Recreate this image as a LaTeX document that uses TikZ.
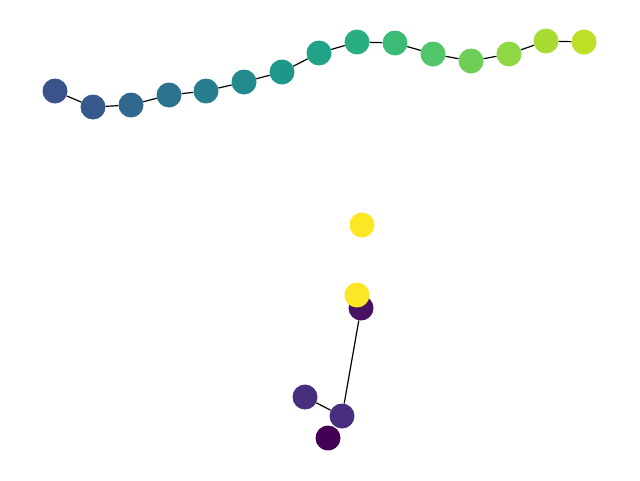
\documentclass[tikz,border=0pt]{standalone}
\usepackage{xcolor}
\definecolor{vir00}{HTML}{440154}
\definecolor{vir05}{HTML}{471164}
\definecolor{vir15}{HTML}{472F7D}
\definecolor{vir25}{HTML}{3B528B}
\definecolor{vir30}{HTML}{37598C}
\definecolor{vir35}{HTML}{30688E}
\definecolor{vir40}{HTML}{2C718E}
\definecolor{vir45}{HTML}{277F8E}
\definecolor{vir50}{HTML}{238A8D}
\definecolor{vir55}{HTML}{1F968B}
\definecolor{vir60}{HTML}{20A386}
\definecolor{vir65}{HTML}{29AF7F}
\definecolor{vir70}{HTML}{3BBB75}
\definecolor{vir75}{HTML}{52C569}
\definecolor{vir80}{HTML}{6ECE58}
\definecolor{vir85}{HTML}{8FD744}
\definecolor{vir90}{HTML}{A8DB34}
\definecolor{vir95}{HTML}{BDDF26}
\definecolor{vir100}{HTML}{FDE725}
\usepackage{tikz}
\usetikzlibrary{backgrounds}
\tikzset{
    vnode/.style={
        circle,
        inner sep=0pt,
        minimum size=25pt,
        draw=none,
    },
    edge/.style={
        line width=1.2pt,
        black,
    },
}

\begin{document}
\begin{tikzpicture}[x=1pt, y=-1pt]
    \useasboundingbox (0,0) rectangle (640,480);

    % Upper chain
    \node[vnode, fill=vir25] (c1) at (55,91) {};
    \node[vnode, fill=vir30] (c2) at (93,107) {};
    \node[vnode, fill=vir35] (c3) at (131,105) {};
    \node[vnode, fill=vir40] (c4) at (169,95) {};
    \node[vnode, fill=vir45] (c5) at (206,91) {};
    \node[vnode, fill=vir50] (c6) at (244,82) {};
    \node[vnode, fill=vir55] (c7) at (282,72) {};
    \node[vnode, fill=vir60] (c8) at (319,53) {};
    \node[vnode, fill=vir65] (c9) at (357,42) {};
    \node[vnode, fill=vir70] (c10) at (395,43) {};
    \node[vnode, fill=vir75] (c11) at (433,54) {};
    \node[vnode, fill=vir80] (c12) at (471,61) {};
    \node[vnode, fill=vir85] (c13) at (509,54) {};
    \node[vnode, fill=vir90] (c14) at (546,41) {};
    \node[vnode, fill=vir95] (c15) at (584,42) {};

    % Lower group
    \node[vnode, fill=vir100] (top) at (362,225) {};
    \node[vnode, fill=vir05] (hub) at (361,308) {};
    \node[vnode, fill=vir100] (over) at (357,295) {};
    \node[vnode, fill=vir15] (left) at (305,397) {};
    \node[vnode, fill=vir15] (mid) at (342,416) {};
    \node[vnode, fill=vir00] (bottom) at (328,438) {};

    % Edges
    \begin{scope}[on background layer]
        \draw[edge] (c1) -- (c2) -- (c3) -- (c4) -- (c5) -- (c6) -- (c7) -- (c8);
        \draw[edge] (c8) -- (c9) -- (c10) -- (c11) -- (c12) -- (c13) -- (c14) -- (c15);
        \draw[edge] (hub) -- (mid);
        \draw[edge] (left) -- (mid);
    \end{scope}

\end{tikzpicture}
\end{document}
